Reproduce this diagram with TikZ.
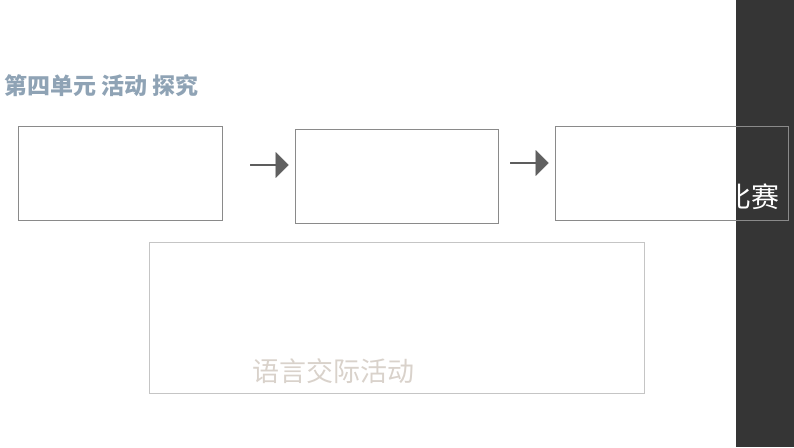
\documentclass[tikz,border=0pt]{standalone}
\usepackage{fontspec}
\newfontfamily\cjk{Noto Sans CJK SC}
\usetikzlibrary{shapes.arrows}
\definecolor{bar}{HTML}{353535}
\definecolor{titlec}{HTML}{8FA3B5}
\definecolor{boxc}{HTML}{8A8A8A}
\definecolor{faint}{HTML}{D9D2CB}
\tikzset{panel/.style={draw=boxc,line width=0.9pt,inner sep=0},
  arr/.style={single arrow,draw=gray!70!black,fill=gray!75!black,minimum width=25pt,single arrow head extend=3pt,minimum height=38pt,inner sep=0}}
\begin{document}
\begin{tikzpicture}[x=1pt,y=-1pt]
\useasboundingbox (0,0) rectangle (794,447);
\fill[bar] (736,0) rectangle (794,447);
\node[font=\cjk\bfseries\fontsize{23}{23}\selectfont,text=titlec,anchor=west,inner sep=0] (title) at (4,86) {第四单元 活动 探究};
\draw[panel] (18,126) rectangle (222,220) coordinate (b1);
\draw[panel] (295,129) rectangle (498,223) coordinate (b2);
\draw[panel] (555,126) rectangle (788,220) coordinate (b3);
\draw[panel,draw=boxc!50] (149,242) rectangle (644,393) coordinate (b4);
\node[arr] (a1) at (269,165) {};
\node[arr] (a2) at (529,163) {};
\node[font=\cjk\fontsize{28}{28}\selectfont,text=white,anchor=east,inner sep=0] (t3) at (780,197) {比赛};
\node[font=\cjk\fontsize{27}{27}\selectfont,text=faint,inner sep=0] (t4) at (333,371) {语言交际活动};
\end{tikzpicture}
\end{document}
